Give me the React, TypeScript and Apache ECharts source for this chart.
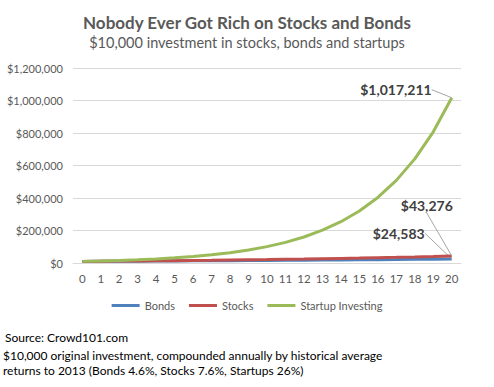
import React, { useEffect, useRef } from "react";
import * as echarts from "echarts";

const years = ["0","1","2","3","4","5","6","7","8","9","10","11","12","13","14","15","16","17","18","19","20"];
const bonds = [10000, 10460, 10941, 11444, 11971, 12522, 13098, 13700, 14330, 14989, 15679, 16400, 17155, 17944, 18769, 19632, 20536, 21480, 22468, 23502, 24583];
const stocks = [10000, 10760, 11578, 12458, 13404, 14423, 15519, 16699, 17968, 19333, 20803, 22384, 24085, 25915, 27885, 30004, 32285, 34738, 37378, 40219, 43276];
const startups = [10000, 12600, 15876, 20004, 25205, 31758, 40015, 50419, 63528, 80045, 100857, 127080, 160120, 201752, 254207, 320301, 403579, 508510, 640722, 807310, 1017211];
const yTicks = { min: 0, max: 1200000, interval: 200000 };

const FONT = "Lato";
const fmt = (v: number) => "$" + Math.round(v).toLocaleString("en-US");

function withLastLabel(arr: number[]) {
  return arr.map((v, i) => (i === arr.length - 1 ? { value: v, label: { show: true } } : v));
}

export default function App() {
  const ref = useRef<HTMLDivElement>(null);
  useEffect(() => {
    const chart = echarts.init(ref.current!, null, { renderer: "svg" });
    const labelOffsets: Record<number, [number, number]> = {
      0: [-22, -26],
      1: [-25, -38],
      2: [-15, -8],
    };
    const mk = (name: string, data: number[], color: string, idx: number, pos: string) => ({
      name,
      type: "line",
      data: withLastLabel(data),
      symbol: "circle",
      symbolSize: 0.1,
      showSymbol: true,
      lineStyle: { color, width: 3 },
      itemStyle: { color },
      label: {
        show: false,
        position: pos,
        formatter: (p: any) => fmt(p.value),
        fontFamily: FONT,
        fontWeight: "bold",
        fontSize: 14,
        color: "#404040",
      },
      labelLine: { show: true, lineStyle: { color: "#A6A6A6", width: 1 } },
      labelLayout: () => ({ dx: labelOffsets[idx][0], dy: labelOffsets[idx][1] }),
      z: 2 + idx,
    });
    chart.setOption({
      animation: false,
      textStyle: { fontFamily: FONT },
      title: {
        text: "Nobody Ever Got Rich on Stocks and Bonds",
        subtext: "$10,000 investment in stocks, bonds and startups",
        left: "center",
        top: 9,
        itemGap: 4,
        padding: [5, 15, 5, 5],
        textStyle: { fontFamily: FONT, fontSize: 17, fontWeight: "bold", color: "#595959" },
        subtextStyle: { fontFamily: FONT, fontSize: 14.5, color: "#595959" },
      },
      legend: {
        bottom: 71,
        left: "center",
        padding: [5, 17, 5, 5],
        icon: "rect",
        itemWidth: 28,
        itemHeight: 3,
        itemGap: 14,
        textStyle: { fontFamily: FONT, fontSize: 11, color: "#595959" },
      },
      grid: { left: 73, right: 33, top: 68, bottom: 124, containLabel: false },
      xAxis: {
        type: "category",
        data: years,
        boundaryGap: true,
        axisLine: { lineStyle: { color: "#D9D9D9" } },
        axisTick: { show: false },
        axisLabel: { fontFamily: FONT, fontSize: 11.5, color: "#595959", margin: 9, interval: 0 },
      },
      yAxis: {
        type: "value",
        min: yTicks.min,
        max: yTicks.max,
        interval: yTicks.interval,
        axisLine: { show: false },
        axisTick: { show: false },
        splitLine: { lineStyle: { color: "#D9D9D9" } },
        axisLabel: {
          fontFamily: FONT,
          fontSize: 11,
          color: "#595959",
          margin: 10,
          formatter: (v: number) => fmt(v),
        },
      },
      graphic: [
        {
          type: "text",
          left: 5,
          top: 331,
          style: { text: "Source: Crowd101.com", fontFamily: FONT, fontSize: 12, fill: "#000" },
        },
        {
          type: "text",
          left: 3,
          top: 348,
          style: {
            text: "$10,000 original investment, compounded annually by historical average\nreturns to 2013 (Bonds 4.6%, Stocks 7.6%, Startups 26%)",
            fontFamily: FONT,
            fontSize: 12,
            lineHeight: 15,
            fill: "#000",
          },
        },
      ],
      series: [
        mk("Bonds", bonds, "#4F81BD", 0, "left"),
        mk("Stocks", stocks, "#C0504D", 1, "top"),
        mk("Startup Investing", startups, "#9BBB59", 2, "left"),
      ],
    });
    return () => chart.dispose();
  }, []);
  return <div ref={ref} style={{ width: 494, height: 387, position: "absolute", left: 0, top: 0 }} />;
}
